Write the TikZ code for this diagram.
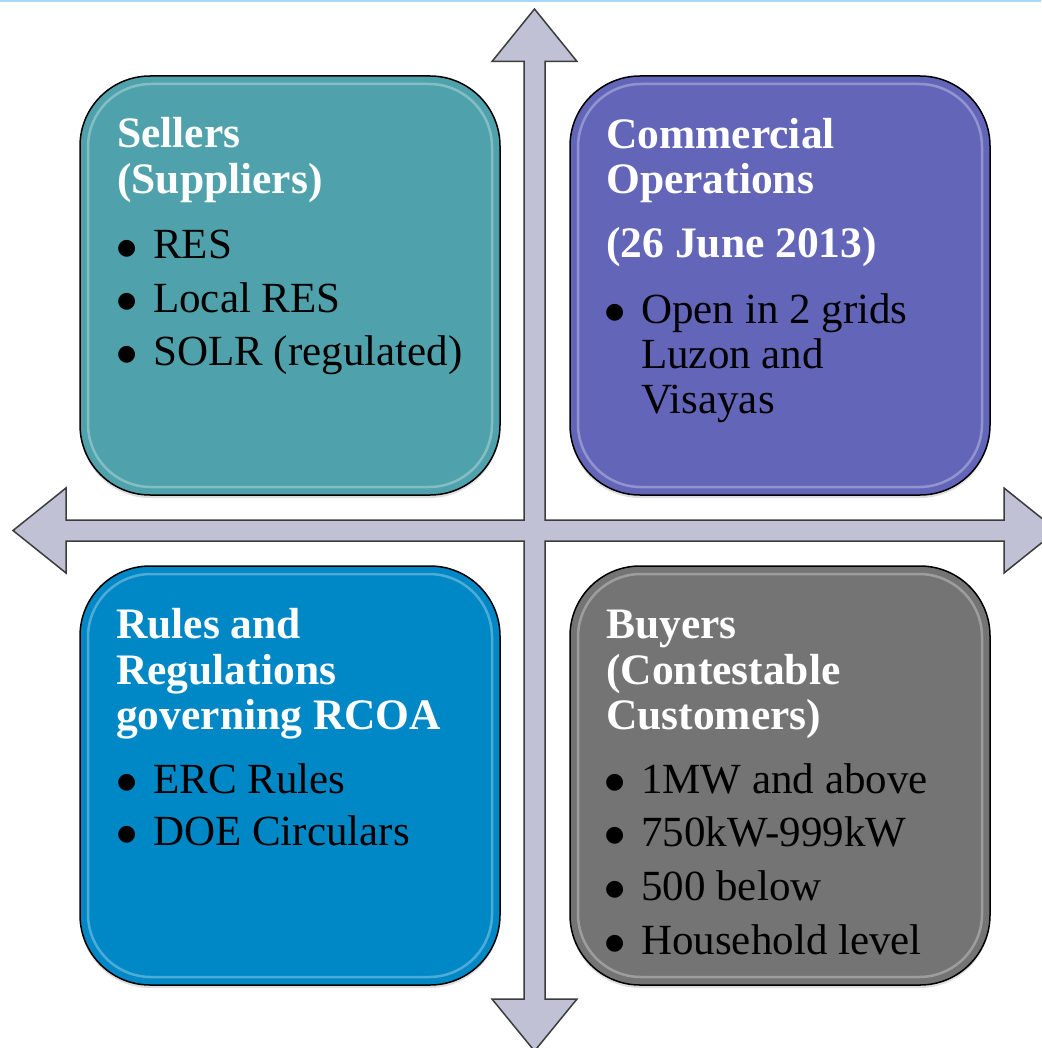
\documentclass[tikz,border=0pt]{standalone}
\usepackage{fontspec}
\setmainfont{Liberation Serif}
\newfontfamily\bulfont{DejaVu Sans}
\usetikzlibrary{shadows}

\definecolor{sellerteal}{HTML}{4FA2AC}
\definecolor{opspurple}{HTML}{6366B8}
\definecolor{rulesblue}{HTML}{0088C6}
\definecolor{buyersgray}{HTML}{747474}
\definecolor{crossfill}{HTML}{C0C1D4}
\definecolor{crossline}{HTML}{3C3C3C}
\definecolor{topline}{HTML}{A6D8F7}

\newcommand{\itembul}{\llap{\raisebox{5pt}{\bulfont\fontsize{22}{22}\selectfont ●}\hspace{17pt}}}

\tikzset{
  quad/.style={draw=black, line width=1.5pt, rounded corners=70pt,
    minimum width=420pt, minimum height=419pt, inner sep=0pt,
    drop shadow={opacity=0.25, shadow xshift=0pt, shadow yshift=-3pt}},
  gloss/.style={draw=white, opacity=0.3, line width=2.5pt, rounded corners=63pt,
    minimum width=404pt, minimum height=403pt, inner sep=0pt},
  title/.style={anchor=base west, text=white, inner sep=0pt,
    font=\bfseries\fontsize{43.5}{46}\selectfont},
  item/.style={anchor=base west, text=black, inner sep=0pt,
    font=\fontsize{43}{46}\selectfont},
}

\begin{document}
\begin{tikzpicture}[x=1pt, y=-1pt]
  \useasboundingbox (0,0) rectangle (1041,1048);
  \fill[topline] (0,0) rectangle (1041,2.5);

  % the cross of arrows
  \draw[fill=crossfill, draw=crossline, line width=1.5pt, line join=miter]
    (534.5,9) -- (577,61.5) -- (545,61.5) -- (545,520) -- (1004,520)
    -- (1004,488) -- (1057,530.5) -- (1004,573) -- (1004,541) -- (545,541)
    -- (545,999) -- (577,999) -- (534.5,1051) -- (492,999) -- (524,999)
    -- (524,541) -- (66,541) -- (66,573) -- (13,530.5) -- (66,488)
    -- (66,520) -- (524,520) -- (524,61.5) -- (492,61.5) -- cycle;

  % the four boxes
  \node[quad, fill=sellerteal] (sellers) at (290,285.5) {};
  \node[quad, fill=opspurple] (commops) at (780,285.5) {};
  \node[quad, fill=rulesblue] (rules) at (290,775.5) {};
  \node[quad, fill=buyersgray] (buyers) at (780,775.5) {};
  \node[gloss] (sellers-gloss) at (sellers.center) {};
  \node[gloss] (commops-gloss) at (commops.center) {};
  \node[gloss] (rules-gloss) at (rules.center) {};
  \node[gloss] (buyers-gloss) at (buyers.center) {};

  % sellers
  \node[title] (sellers-t1) at (117,148) {Sellers};
  \node[title] (sellers-t2) at (117,194) {(Suppliers)};
  \node[item] (sellers-i1) at (153,259) {\itembul RES};
  \node[item] (sellers-i2) at (153,312) {\itembul Local RES};
  \node[item] (sellers-i3) at (153,365) {\itembul SOLR (regulated)};

  % commercial operations
  \node[title] (commops-t1) at (606,149) {Commercial};
  \node[title] (commops-t2) at (606,194) {Operations};
  \node[title] (commops-t3) at (606,258) {(26 June 2013)};
  \node[item] (commops-i1) at (641,323) {\itembul Open in 2 grids};
  \node[item] (commops-i2) at (641,368) {Luzon and};
  \node[item] (commops-i3) at (641,413) {Visayas};

  % rules and regulations
  \node[title] (rules-t1) at (116,638) {Rules and};
  \node[title] (rules-t2) at (116,684) {Regulations};
  \node[title] (rules-t3) at (116,729) {governing RCOA};
  \node[item] (rules-i1) at (153,793) {\itembul ERC Rules};
  \node[item] (rules-i2) at (153,845) {\itembul DOE Circulars};

  % buyers
  \node[title] (buyers-t1) at (606,638) {Buyers};
  \node[title] (buyers-t2) at (606,684) {(Contestable};
  \node[title] (buyers-t3) at (606,729) {Customers)};
  \node[item] (buyers-i1) at (641,793) {\itembul 1MW and above};
  \node[item] (buyers-i2) at (641,846) {\itembul 750kW-999kW};
  \node[item] (buyers-i3) at (641,900) {\itembul 500 below};
  \node[item] (buyers-i4) at (641,954) {\itembul Household level};
\end{tikzpicture}
\end{document}
